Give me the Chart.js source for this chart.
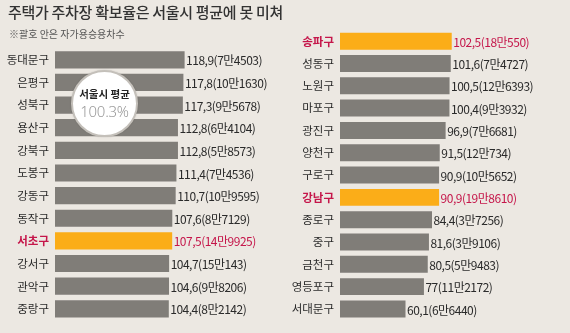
<!DOCTYPE html>
<html>
<head>
<meta charset="utf-8">
<script src="https://cdn.jsdelivr.net/npm/chart.js@4"></script>
<style>
  body { margin: 0; background: #ece8e2; font-family: "Noto Sans CJK KR", sans-serif; }
  #wrap { position: relative; width: 570px; height: 333px; overflow: hidden; }
  #title { position: absolute; left: 8px; top: 1px; font-size: 15px; font-weight: 500; color: #333; letter-spacing: -0.3px; white-space: nowrap; }
  #sub { position: absolute; left: 9px; top: 26px; font-size: 10px; color: #555; white-space: nowrap; }
  .pane { position: absolute; top: 0; width: 285px; height: 333px; }
  #avg { position: absolute; left: 71px; top: 70px; width: 63px; height: 63px; border-radius: 50%;
         background: #fff; border: 2.5px solid #c4c0ba; box-shadow: 0 0 2px rgba(0,0,0,0.15); text-align: center; }
  #avg .a { margin-top: 15px; font-size: 10.5px; font-weight: 700; color: #222; line-height: 14px; }
  #avg .b { font-family: "Noto Sans", sans-serif; font-weight: 300; font-size: 15px; color: #9a9a9a; line-height: 21px; letter-spacing: -0.3px; }
</style>
</head>
<body>
<div id="wrap">
  <div class="pane" style="left:0"><canvas id="left"></canvas></div>
  <div class="pane" style="left:285px"><canvas id="right"></canvas></div>
  <div id="title">주택가 주차장 확보율은 서울시 평균에 못 미쳐</div>
  <div id="sub">※괄호 안은 자가용승용차수</div>
  <div id="avg"><div class="a">서울시 평균</div><div class="b">100.3%</div></div>
</div>
<script>
// 자치구별 주택가 주차장 확보율(%)과 자가용승용차수
const leftDistricts = ['동대문구', '은평구', '성북구', '용산구', '강북구', '도봉구', '강동구', '동작구', '서초구', '강서구', '관악구', '중랑구'];
const leftRates = [118.9, 117.8, 117.3, 112.8, 112.8, 111.4, 110.7, 107.6, 107.5, 104.7, 104.6, 104.4];
const leftCars = ['7만4503', '10만1630', '9만5678', '6만4104', '5만8573', '7만4536', '10만9595', '8만7129', '14만9925', '15만143', '9만8206', '8만2142'];

const rightDistricts = ['송파구', '성동구', '노원구', '마포구', '광진구', '양천구', '구로구', '강남구', '종로구', '중구', '금천구', '영등포구', '서대문구'];
const rightRates = [102.5, 101.6, 100.5, 100.4, 96.9, 91.5, 90.9, 90.9, 84.4, 81.6, 80.5, 77, 60.1];
const rightCars = ['18만550', '7만4727', '12만6393', '9만3932', '7만6681', '12만734', '10만5652', '19만8610', '3만7256', '3만9106', '5만9483', '11만2172', '6만6440'];

const highlighted = ['서초구', '송파구', '강남구'];

const GRAY = '#807d78';
const ORANGE = '#fbad18';
const RED = '#c5164a';
const TEXT = '#2a2a2a';
const FONT = '"Noto Sans CJK KR", sans-serif';

const valueLabels = {
  id: 'valueLabels',
  afterDatasetsDraw(chart) {
    const ctx = chart.ctx;
    const meta = chart.getDatasetMeta(0);
    const cats = chart.data.labels;
    const cars = chart.options.plugins.valueLabels.cars;
    ctx.save();
    ctx.font = '12px ' + FONT;
    ctx.textBaseline = 'middle';
    ctx.textAlign = 'left';
    if ('letterSpacing' in ctx) ctx.letterSpacing = '-0.5px';
    meta.data.forEach((bar, i) => {
      const v = chart.data.datasets[0].data[i];
      const txt = String(v).replace('.', ',') + '(' + cars[i] + ')';
      ctx.fillStyle = highlighted.includes(cats[i]) ? RED : TEXT;
      ctx.fillText(txt, bar.x + 1.5, bar.y + 1);
    });
    ctx.restore();
  }
};

function makeChart(id, labels, values, cars, padTop, padBottom) {
  return new Chart(document.getElementById(id), {
    type: 'bar',
    data: {
      labels: labels,
      datasets: [{
        data: values,
        backgroundColor: labels.map(l => highlighted.includes(l) ? ORANGE : GRAY),
        borderWidth: 0,
        categoryPercentage: 1,
        barPercentage: 0.76
      }]
    },
    options: {
      indexAxis: 'y',
      responsive: true,
      maintainAspectRatio: false,
      animation: false,
      layout: { padding: { top: padTop, bottom: padBottom, left: 0, right: 0 } },
      scales: {
        x: { display: false, min: 0, max: 211 },
        y: {
          grid: { display: false, drawTicks: false },
          border: { display: false },
          afterFit: s => { s.width = 55; },
          ticks: {
            padding: 6,
            color: c => highlighted.includes(labels[c.index]) ? RED : TEXT,
            font: c => ({ family: FONT, size: 11.5, weight: highlighted.includes(labels[c.index]) ? 'bold' : 'normal' })
          }
        }
      },
      plugins: {
        legend: { display: false },
        tooltip: { enabled: false },
        valueLabels: { cars: cars }
      }
    },
    plugins: [valueLabels]
  });
}

makeChart('left', leftDistricts, leftRates, leftCars, 48.5, 8.5);
makeChart('right', rightDistricts, rightRates, rightCars, 30, 4);
</script>
</body>
</html>
